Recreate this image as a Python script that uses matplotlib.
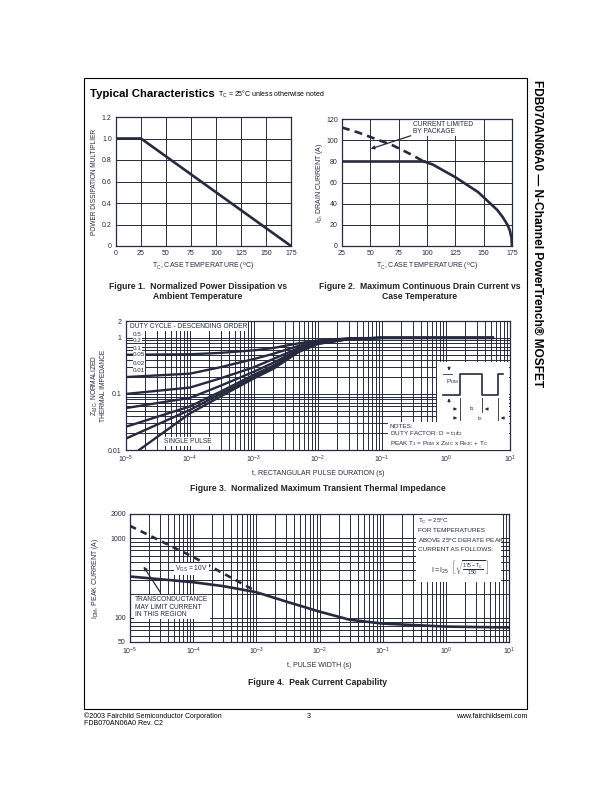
import numpy as np
import matplotlib
matplotlib.use('Agg')
import matplotlib.pyplot as plt
from matplotlib.ticker import LogLocator, NullFormatter, FixedLocator, FixedFormatter
from matplotlib.patches import Rectangle

plt.rcParams['font.family'] = ['Liberation Sans', 'DejaVu Sans']
plt.rcParams['mathtext.fontset'] = 'custom'
plt.rcParams['mathtext.rm'] = 'Liberation Sans'
plt.rcParams['mathtext.it'] = 'Liberation Sans'
plt.rcParams['mathtext.bf'] = 'Liberation Sans:bold'

W, H = 612, 792
ink = '#262a3e'

# ---- data ----
# Figure 1: power dissipation multiplier
fig1_temp = [0, 25, 175]
fig1_mult = [1.0, 1.0, 0.0]

# Figure 2: drain current vs case temperature
fig2_flat_temp = [25, 97]
fig2_flat_cur = [80, 80]
fig2_dash_temp = [25, 40, 55, 70, 85, 97]
fig2_dash_cur = [112, 107, 101, 95, 87, 80]
fig2_curve_temp = [97, 105, 115, 125, 135, 145, 155, 162, 167, 171, 173, 174.5, 175]
fig2_curve_cur = [80, 77, 71, 65, 58, 51, 41, 34, 27, 20, 15, 8, 0]

# Figure 3: transient thermal impedance
duty_labels = ['0.5', '0.2', '0.1', '0.05', '0.02', '0.01']
z_time = [1e-5, 1e-4, 3e-4, 1e-3, 2e-3, 5e-3, 1e-2, 3e-2, 1e-1, 1.0, 5.4]
z_d50 = [0.50, 0.51, 0.54, 0.60, 0.66, 0.80, 0.90, 0.98, 1.0, 1.0, 1.0]
z_d20 = [0.20, 0.23, 0.30, 0.42, 0.52, 0.72, 0.86, 0.97, 1.0, 1.0, 1.0]
z_d10 = [0.10, 0.13, 0.19, 0.30, 0.42, 0.66, 0.83, 0.96, 1.0, 1.0, 1.0]
z_d05 = [0.056, 0.085, 0.14, 0.25, 0.36, 0.62, 0.81, 0.96, 1.0, 1.0, 1.0]
z_d02 = [0.026, 0.060, 0.11, 0.22, 0.32, 0.60, 0.80, 0.95, 1.0, 1.0, 1.0]
z_d01 = [0.016, 0.052, 0.10, 0.20, 0.30, 0.58, 0.79, 0.95, 1.0, 1.0, 1.0]
sp_time = [1.6e-5, 1e-4, 3e-4, 1e-3, 2e-3, 5e-3, 1e-2, 3e-2, 1e-1]
z_single = [0.010, 0.045, 0.09, 0.19, 0.28, 0.56, 0.78, 0.95, 1.0]

# Figure 4: peak current capability
ipk_time = [1e-5, 1e-4, 3e-4, 1e-3, 3e-3, 1e-2, 3e-2, 1e-1, 1.0, 10.0]
ipk_cur = [330, 280, 250, 210, 160, 120, 95, 85, 78, 76]
ipk_dash_time = [1e-5, 1e-4, 1e-3]
ipk_dash_cur = [1420, 580, 215]

decade_labels = ['$10^{-5}$', '$10^{-4}$', '$10^{-3}$', '$10^{-2}$', '$10^{-1}$', '$10^{0}$', '$10^{1}$']


def box(x0, y0, x1, y1):
    return [x0 / W, 1 - y1 / H, (x1 - x0) / W, (y1 - y0) / H]


def style(ax):
    for s in ax.spines.values():
        s.set_color(ink)
        s.set_linewidth(0.9)
    ax.tick_params(which='both', length=0, labelsize=5.0, colors=ink, pad=3)
    ax.grid(which='both', color=ink, lw=0.7)
    ax.set_axisbelow(True)


def log_axes(ax, yticks, ylabels):
    ax.set_xscale('log')
    ax.set_yscale('log')
    ax.xaxis.set_major_locator(FixedLocator([1e-5, 1e-4, 1e-3, 1e-2, 1e-1, 1, 10]))
    ax.xaxis.set_major_formatter(FixedFormatter(decade_labels))
    ax.xaxis.set_minor_locator(LogLocator(base=10, subs=np.arange(2, 10), numticks=20))
    ax.xaxis.set_minor_formatter(NullFormatter())
    ax.yaxis.set_major_locator(FixedLocator(yticks))
    ax.yaxis.set_major_formatter(FixedFormatter(ylabels))
    ax.yaxis.set_minor_locator(LogLocator(base=10, subs=np.arange(2, 10), numticks=20))
    ax.yaxis.set_minor_formatter(NullFormatter())


fig = plt.figure(figsize=(W / 100, H / 100), dpi=100)

# ---- Figure 1 ----
ax1 = fig.add_axes(box(116, 117, 291, 246))
ax1.plot(fig1_temp, fig1_mult, color=ink, lw=1.9)
ax1.set_xlim(0, 175)
ax1.set_ylim(0, 1.2)
ax1.set_xticks(range(0, 176, 25))
ax1.set_yticks([0, 0.2, 0.4, 0.6, 0.8, 1.0, 1.2])
ax1.set_yticklabels(['0', '0.2', '0.4', '0.6', '0.8', '1.0', '1.2'])
style(ax1)
ax1.set_xlabel(r'T$_C$, CASE TEMPERATURE ($^o$C)', fontsize=5.0, color=ink, labelpad=3)
ax1.set_ylabel('POWER DISSIPATION MULTIPLIER', fontsize=4.7, color=ink)
ax1.yaxis.set_label_coords(-0.103, 0.5)

# ---- Figure 2 ----
ax2 = fig.add_axes(box(342, 119, 512, 246))
ax2.plot(fig2_flat_temp, fig2_flat_cur, color=ink, lw=1.9)
ax2.plot(fig2_dash_temp, fig2_dash_cur, color=ink, lw=1.9, ls=(0, (3, 2)))
ax2.plot(fig2_curve_temp, fig2_curve_cur, color=ink, lw=1.9)
ax2.set_xlim(25, 175)
ax2.set_ylim(0, 120)
ax2.set_xticks(range(25, 176, 25))
ax2.set_yticks(range(0, 121, 20))
style(ax2)
ax2.set_xlabel(r'T$_C$, CASE TEMPERATURE ($^o$C)', fontsize=5.0, color=ink, labelpad=3)
ax2.set_ylabel(r'I$_D$, DRAIN CURRENT (A)', fontsize=5.0, color=ink)
ax2.yaxis.set_label_coords(-0.1, 0.5)
ax2.text(88, 118.5, 'CURRENT LIMITED\nBY PACKAGE', fontsize=4.8, color=ink, va='top',
         linespacing=1.05, bbox=dict(fc='white', ec='none', pad=0.6))
ax2.annotate('', xy=(48, 91), xytext=(88, 105),
             arrowprops=dict(arrowstyle='-|>', color=ink, lw=0.9, mutation_scale=5))

# ---- Figure 3 ----
ax3 = fig.add_axes(box(126, 321, 510, 450))
for z in [z_d50, z_d20, z_d10, z_d05, z_d02, z_d01]:
    ax3.plot(z_time, z, color=ink, lw=1.7)
ax3.plot(sp_time, z_single, color=ink, lw=1.7)
log_axes(ax3, [0.01, 0.1, 1, 2], ['0.01', '0.1', '1', '2'])
ax3.set_xlim(1e-5, 10)
ax3.set_ylim(0.01, 2)
style(ax3)
ax3.set_xlabel('t, RECTANGULAR PULSE DURATION (s)', fontsize=5.0, color=ink, labelpad=3)
ax3.set_ylabel(r'Z$_{\theta JC}$, NORMALIZED' + '\nTHERMAL IMPEDANCE', fontsize=4.8,
               color=ink, linespacing=1.0)
ax3.yaxis.set_label_coords(-0.05, 0.5)
ax3.text(0.01, 0.985, 'DUTY CYCLE - DESCENDING ORDER', transform=ax3.transAxes, fontsize=4.8,
         color=ink, va='top', bbox=dict(fc='white', ec='none', pad=0.8))
label_y = [334, 340, 348, 354, 363, 370]
for lab, yy in zip(duty_labels, label_y):
    ax3.text(0.018, 1 - (yy - 321) / 129, lab, transform=ax3.transAxes, fontsize=4.5,
             color=ink, va='center', bbox=dict(fc='white', ec='none', pad=0.1))
ax3.text(0.1, 0.065, 'SINGLE PULSE', transform=ax3.transAxes, fontsize=4.8, color=ink,
         va='center', bbox=dict(fc='white', ec='none', pad=0.8))

# ---- Figure 4 ----
ax4 = fig.add_axes(box(130, 514, 509, 642))
ax4.plot(ipk_time, ipk_cur, color=ink, lw=1.9)
ax4.plot(ipk_dash_time, ipk_dash_cur, color=ink, lw=1.9, ls=(0, (2.5, 2)))
log_axes(ax4, [50, 100, 1000, 2000], ['50', '100', '1000', '2000'])
ax4.set_xlim(1e-5, 10)
ax4.set_ylim(50, 2000)
style(ax4)
ax4.set_xlabel('t, PULSE WIDTH (s)', fontsize=5.0, color=ink, labelpad=3)
ax4.set_ylabel(r'I$_{DM}$, PEAK CURRENT (A)', fontsize=5.0, color=ink)
ax4.yaxis.set_label_coords(-0.077, 0.5)
ax4.text(5.2e-5, 410, r'V$_{GS}$ = 10V', fontsize=4.8, color=ink, va='center',
         bbox=dict(fc='white', ec='none', pad=0.6))
ax4.text(1.2e-5, 188, 'TRANSCONDUCTANCE\nMAY LIMIT CURRENT\nIN THIS REGION', fontsize=4.8,
         color=ink, va='top', linespacing=1.1, bbox=dict(fc='white', ec='none', pad=1.0))
ax4.annotate('', xy=(1.55e-5, 470), xytext=(3.2e-5, 195),
             arrowprops=dict(arrowstyle='-|>', color=ink, lw=0.9, mutation_scale=5))

# ---- page overlay in pixel coordinates ----
pg = fig.add_axes([0, 0, 1, 1], zorder=10)
pg.set_xlim(0, W)
pg.set_ylim(H, 0)
pg.axis('off')
pg.patch.set_alpha(0)

pg.add_patch(Rectangle((84, 78), 443, 631, fill=False, ec='black', lw=0.8))
pg.text(90, 97, 'Typical Characteristics', fontsize=8.2, weight='bold', va='baseline')
pg.text(218, 97, r'T$_C$ = 25°C unless otherwise noted', fontsize=5.0, va='baseline')
pg.text(537, 80, 'FDB070AN06A0 \u2014 N-Channel PowerTrench\u00ae MOSFET', fontsize=8.6,
        weight='bold', rotation=-90, ha='center', va='top')

cap = dict(fontsize=6.2, weight='bold', ha='center', va='top', linespacing=1.1, color='#222222')
pg.text(198, 282, 'Figure 1.  Normalized Power Dissipation vs\nAmbient Temperature', **cap)
pg.text(420, 282, 'Figure 2.  Maximum Continuous Drain Current vs\nCase Temperature', **cap)
pg.text(318, 484, 'Figure 3.  Normalized Maximum Transient Thermal Impedance', **cap)
pg.text(318, 678, 'Figure 4.  Peak Current Capability', **cap)

# notes inset of figure 3
arrow = dict(arrowstyle='-|>', color=ink, lw=0.7, mutation_scale=4)
pg.add_patch(Rectangle((437, 362), 72, 60, fc='white', ec='none'))
pg.add_patch(Rectangle((388, 422), 121, 27.5, fc='white', ec='none'))
pg.plot([443, 460, 460, 482, 482, 498, 498, 503], [395, 395, 374, 374, 395, 395, 374, 374],
        color=ink, lw=1.2)
pg.plot([443, 452], [374, 374], color=ink, lw=0.6)
pg.annotate('', xy=(449, 373.5), xytext=(449, 364), arrowprops=arrow)
pg.annotate('', xy=(449, 395.5), xytext=(449, 405), arrowprops=arrow)
pg.text(446, 382, r'P$_{DM}$', fontsize=4.6, color=ink, va='center')
for xx, y1 in [(460, 420), (482, 412), (498, 420)]:
    pg.plot([xx, xx], [398, y1], color=ink, lw=0.6)
pg.annotate('', xy=(460, 409), xytext=(451, 409), arrowprops=arrow)
pg.annotate('', xy=(482, 409), xytext=(490, 409), arrowprops=arrow)
pg.text(469, 409, r't$_1$', fontsize=4.6, color=ink, va='center')
pg.annotate('', xy=(460, 418), xytext=(451, 418), arrowprops=arrow)
pg.annotate('', xy=(498, 418), xytext=(507, 418), arrowprops=arrow)
pg.text(477, 419, r't$_2$', fontsize=4.6, color=ink, va='center')
pg.text(390, 423.5, 'NOTES:\n' + r'DUTY FACTOR: D = t$_1$/t$_2$' + '\n'
        + r'PEAK T$_J$ = P$_{DM}$ x Z$_{\theta JC}$ x R$_{\theta JC}$ + T$_C$',
        fontsize=4.6, color=ink, va='top', linespacing=1.15)

# notes inset of figure 4
pg.add_patch(Rectangle((416, 515), 85, 67, fc='white', ec='none'))
pg.text(418, 517, r'T$_C$ = 25$^o$C' + '\nFOR TEMPERATURES\nABOVE 25$^o$C DERATE PEAK\nCURRENT AS FOLLOWS:',
        fontsize=4.6, color=ink, va='top', linespacing=1.55)
pg.text(460, 568, r'$I = I_{25}\ \ \left[\sqrt{\frac{175 - T_C}{150}}\ \right]$', fontsize=5.2,
        color=ink, ha='center', va='center')

# footer
pg.text(84, 718, '\u00a92003 Fairchild Semiconductor Corporation', fontsize=5.0, va='baseline')
pg.text(84, 725, 'FDB070AN06A0 Rev. C2', fontsize=5.0, va='baseline')
pg.text(309, 718, '3', fontsize=5.0, va='baseline', ha='center')
pg.text(527, 718, 'www.fairchildsemi.com', fontsize=5.0, va='baseline', ha='right')

fig.savefig('out.png', dpi=100)
